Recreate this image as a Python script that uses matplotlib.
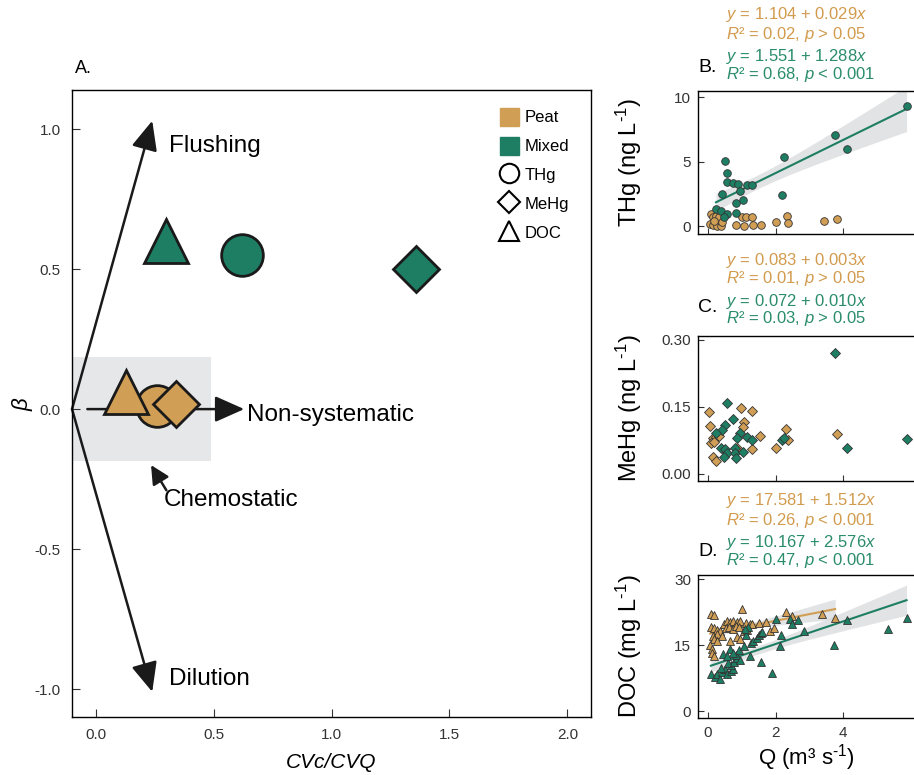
import numpy as np
import matplotlib
matplotlib.use("Agg")
import matplotlib.pyplot as plt
from matplotlib.patches import Patch, Rectangle
from matplotlib.lines import Line2D

plt.rcParams['font.family'] = ['Liberation Sans', 'DejaVu Sans']
plt.rcParams['mathtext.fontset'] = 'custom'
plt.rcParams['mathtext.rm'] = 'Liberation Sans'
plt.rcParams['mathtext.it'] = 'Liberation Sans:italic'
plt.rcParams['axes.unicode_minus'] = False
plt.rcParams['axes.linewidth'] = 1.0

PEAT = '#D19E55'
MIXED = '#1E7E64'
PEAT_TXT = '#D29B4E'
MIXED_TXT = '#2A8C6C'

# panel A: CVc/CVQ and beta for THg, MeHg, DOC
peat_cv = [0.26, 0.34, 0.13]
peat_beta = [0.01, 0.02, 0.06]
mixed_cv = [0.62, 1.36, 0.30]
mixed_beta = [0.55, 0.50, 0.60]

# panel B: THg vs Q
thg_mixed_q = [0.51, 0.58, 0.57, 0.75, 0.88, 1.17, 1.31, 0.43, 0.95, 1.04, 0.84, 0.24,
               0.40, 0.56, 0.48, 0.82, 2.24, 2.20, 3.76, 4.11, 5.87]
thg_mixed = [5.06, 4.13, 3.40, 3.35, 3.30, 3.19, 3.17, 2.52, 2.70, 2.05, 1.79, 1.35,
             1.22, 0.96, 0.70, 1.01, 5.40, 2.42, 7.12, 6.00, 9.32]
thg_peat_q = [0.09, 0.14, 0.24, 0.33, 0.07, 0.14, 0.28, 0.38, 0.19, 0.43, 0.82, 1.07,
              1.02, 1.12, 1.31, 1.34, 1.56, 2.00, 2.34, 2.36, 3.42, 3.81]
thg_peat = [0.96, 0.70, 0.83, 0.70, 0.18, 0.13, 0.05, 0.02, 0.44, 0.31, 0.13, 0.02,
            0.70, 0.70, 0.70, 0.08, 0.13, 0.31, 0.83, 0.23, 0.39, 0.57]

# panel C: MeHg vs Q
mehg_mixed_q = [0.58, 0.74, 0.51, 0.43, 0.24, 0.95, 0.87, 1.15, 1.29, 0.38, 0.51, 0.56,
                0.48, 0.80, 0.80, 0.82, 1.04, 2.20, 2.25, 3.76, 4.11, 5.87]
mehg_mixed = [0.158, 0.122, 0.110, 0.098, 0.091, 0.091, 0.080, 0.082, 0.076, 0.059, 0.055,
              0.046, 0.037, 0.057, 0.046, 0.036, 0.049, 0.076, 0.080, 0.270, 0.057, 0.079]
mehg_peat_q = [0.04, 0.07, 0.99, 1.29, 1.07, 1.04, 0.14, 0.24, 0.33, 0.09, 0.19, 1.54,
               0.85, 1.31, 2.00, 2.32, 2.36, 3.81, 0.14, 0.24]
mehg_peat = [0.138, 0.107, 0.148, 0.140, 0.117, 0.104, 0.080, 0.082, 0.084, 0.069, 0.072,
             0.085, 0.057, 0.055, 0.057, 0.100, 0.076, 0.089, 0.037, 0.028]

# panel D: DOC vs Q
doc_peat_q = [0.09, 0.17, 0.09, 0.19, 0.28, 0.36, 0.26, 0.41, 0.14, 0.19, 0.28, 0.07,
              0.11, 0.11, 0.17, 0.48, 0.56, 0.66, 0.75, 0.85, 0.95, 1.02, 1.12, 1.24,
              1.31, 1.51, 1.71, 0.53, 0.63, 0.73, 0.82, 0.92, 1.07, 1.17, 0.66, 0.87,
              0.95, 1.85, 1.95, 2.32, 2.49, 3.37, 3.76]
doc_peat = [22.2, 22.0, 19.2, 18.9, 18.6, 18.2, 17.7, 17.2, 17.2, 16.5, 15.9, 15.2,
            14.1, 13.3, 12.7, 19.9, 20.5, 20.3, 20.5, 20.3, 20.6, 23.3, 20.1, 19.8,
            19.9, 20.1, 20.3, 18.9, 19.2, 18.8, 19.4, 19.2, 18.2, 18.6, 15.9, 16.9,
            16.4, 18.2, 18.9, 22.6, 21.6, 22.2, 21.3]
doc_mixed_q = [0.09, 0.21, 0.28, 0.36, 0.43, 0.50, 0.38, 0.58, 0.68, 0.75, 0.68, 0.60,
               0.77, 0.87, 0.82, 0.92, 0.66, 0.73, 0.46, 0.56, 0.95, 1.07, 1.12, 1.19,
               1.09, 1.28, 1.34, 1.46, 1.51, 1.56, 1.60, 1.26, 1.58, 1.90, 2.00, 2.17,
               2.13, 2.44, 2.49, 2.66, 2.83, 3.72, 4.11, 5.33, 5.87]
doc_mixed = [8.6, 7.8, 8.4, 7.4, 8.9, 9.6, 9.9, 8.6, 9.1, 9.6, 10.5, 11.0,
             11.2, 12.1, 12.9, 13.9, 14.1, 13.3, 13.1, 12.7, 11.6, 14.8, 17.3, 19.2,
             18.8, 15.6, 16.0, 16.7, 17.3, 17.9, 18.0, 12.7, 11.2, 8.7, 21.1, 17.3,
             14.8, 21.1, 19.9, 20.8, 18.3, 15.0, 20.8, 18.8, 21.2]

# fitted coefficients from the annotations
fit_b_mixed = (1.551, 1.288)
fit_d_peat = (17.581, 1.512)
fit_d_mixed = (10.167, 2.576)


def fit_band(ax, x, y, coef, color):
    x = np.asarray(x)
    y = np.asarray(y)
    a, b = coef
    xs = np.linspace(x.min(), x.max(), 100)
    resid = y - (a + b * x)
    n = len(x)
    s = np.sqrt(np.sum(resid ** 2) / (n - 2))
    se = s * np.sqrt(1 / n + (xs - x.mean()) ** 2 / np.sum((x - x.mean()) ** 2))
    ax.fill_between(xs, a + b * xs - 2 * se, a + b * xs + 2 * se, color='#D9DADB',
                    alpha=0.75, lw=0, zorder=1)
    ax.plot(xs, a + b * xs, color=color, lw=1.5, zorder=2)


fig = plt.figure(figsize=(9.14, 7.75), dpi=100)

# ---------- panel A
ax = fig.add_axes([0.0788, 0.0748, 0.5678, 0.8091])
ax.set_xlim(-0.1, 2.1)
ax.set_ylim(-1.1, 1.14)
ax.add_patch(Rectangle((-0.1, -0.186), 0.59, 0.372, color='#E6E7E8', lw=0, zorder=0))

arr = dict(arrowstyle='-|>,head_length=0.9,head_width=0.4', color='#1a1a1a',
           lw=1.8, mutation_scale=20, shrinkA=0, shrinkB=0)
ax.annotate('', xy=(0.24, 1.03), xytext=(-0.1, 0.0), arrowprops=arr, zorder=2)
ax.annotate('', xy=(0.24, -1.01), xytext=(-0.1, 0.0), arrowprops=arr, zorder=2)
ax.annotate('', xy=(0.63, 0.0), xytext=(-0.035, 0.0), arrowprops=arr, zorder=2)
ax.annotate('', xy=(0.235, -0.2), xytext=(0.30, -0.29),
            arrowprops=dict(arrowstyle='-|>,head_length=0.8,head_width=0.4',
                            color='#1a1a1a', lw=1.8, mutation_scale=14,
                            shrinkA=0, shrinkB=0), zorder=2)

ax.text(0.31, 0.94, 'Flushing', fontsize=17.5, va='center')
ax.text(0.64, -0.02, 'Non-systematic', fontsize=17.5, va='center')
ax.text(0.29, -0.325, 'Chemostatic', fontsize=17.5, va='center')
ax.text(0.31, -0.965, 'Dilution', fontsize=17.5, va='center')

markers = ['o', 'D', '^']
sizes = [30, 23, 31]
for i in [0, 2, 1]:
    ax.plot(peat_cv[i], peat_beta[i], marker=markers[i], ms=sizes[i], mfc=PEAT,
            mec='#1a1a1a', mew=2, ls='none', zorder=3)
    ax.plot(mixed_cv[i], mixed_beta[i], marker=markers[i], ms=sizes[i], mfc=MIXED,
            mec='#1a1a1a', mew=2, ls='none', zorder=3)

handles = [Patch(color=PEAT, label='Peat'), Patch(color=MIXED, label='Mixed'),
           Line2D([], [], marker='o', ms=14, mfc='white', mec='black', mew=1.5, ls='none', label='THg'),
           Line2D([], [], marker='D', ms=11, mfc='white', mec='black', mew=1.5, ls='none', label='MeHg'),
           Line2D([], [], marker='^', ms=15, mfc='white', mec='black', mew=1.5, ls='none', label='DOC')]
ax.legend(handles=handles, loc='upper left', bbox_to_anchor=(0.825, 0.972), frameon=False,
          fontsize=12, handlelength=1.1, handleheight=1.3, handletextpad=0.35,
          labelspacing=0.65, borderaxespad=0, borderpad=0)

ax.set_xticks([0.0, 0.5, 1.0, 1.5, 2.0])
ax.set_yticks([-1.0, -0.5, 0.0, 0.5, 1.0])
ax.tick_params(direction='in', length=6, labelsize=11, pad=8, colors='#333333')
ax.set_xlabel('CVc/CVQ', fontsize=15, style='italic', labelpad=8)
ax.set_ylabel(r'$\beta$', fontsize=16)
ax.yaxis.set_label_coords(-0.072, 0.5)
fig.text(0.082, 0.912, 'A.', fontsize=13, va='center')

# ---------- panels B, C, D
rects = [[0.7637, 0.6981, 0.2363, 0.1845],
         [0.7637, 0.3794, 0.2363, 0.1871],
         [0.7637, 0.0735, 0.2363, 0.1845]]
axB, axC, axD = [fig.add_axes(r) for r in rects]
for a in (axB, axC, axD):
    a.set_xlim(-0.29, 6.09)
    a.set_xticks([0, 2, 4])
    a.spines['right'].set_visible(False)
    a.tick_params(direction='in', length=4, labelsize=11, pad=5, colors='#333333')
axB.set_xticklabels([])
axC.set_xticklabels([])

small = dict(ls='none', mec='#333333', mew=0.6, zorder=3)
fit_band(axB, thg_mixed_q, thg_mixed, fit_b_mixed, MIXED)
axB.plot(thg_peat_q, thg_peat, 'o', ms=5.5, mfc=PEAT, **small)
axB.plot(thg_mixed_q, thg_mixed, 'o', ms=5.5, mfc=MIXED, **small)
axB.set_ylim(-0.6, 10.5)
axB.set_yticks([0, 5, 10])
axB.set_ylabel(r'THg (ng L$^{\text{-1}}$)', fontsize=17)

axC.plot(mehg_peat_q, mehg_peat, 'D', ms=5, mfc=PEAT, **small)
axC.plot(mehg_mixed_q, mehg_mixed, 'D', ms=5, mfc=MIXED, **small)
axC.set_ylim(-0.016, 0.309)
axC.set_yticks([0.0, 0.15, 0.30])
axC.set_yticklabels(['0.00', '0.15', '0.30'])
axC.set_ylabel(r'MeHg (ng L$^{\text{-1}}$)', fontsize=17)

fit_band(axD, doc_peat_q, doc_peat, fit_d_peat, PEAT)
fit_band(axD, doc_mixed_q, doc_mixed, fit_d_mixed, MIXED)
axD.plot(doc_peat_q, doc_peat, '^', ms=6, mfc=PEAT, **small)
axD.plot(doc_mixed_q, doc_mixed, '^', ms=6, mfc=MIXED, **small)
axD.set_ylim(-1.5, 31)
axD.set_yticks([0, 15, 30])
axD.set_ylabel(r'DOC (mg L$^{\text{-1}}$)', fontsize=17)
axD.set_xlabel(r'Q (m³ s$^{\text{-1}}$)', fontsize=16, labelpad=1)
axD.tick_params(axis='x', pad=6)

# line up the three y labels like the reference
for a in (axB, axC, axD):
    a.yaxis.set_label_coords(-0.25, 0.5)

# panel letters and regression annotations
W, H = 914.0, 775.0
ann = [('B.', 67, ['$\\it{y}$ = 1.104 + 0.029$\\it{x}$', '$\\it{R}$² = 0.02, $\\it{p}$ > 0.05'],
        ['$\\it{y}$ = 1.551 + 1.288$\\it{x}$', '$\\it{R}$² = 0.68, $\\it{p}$ < 0.001'], 15),
       ('C.', 307, ['$\\it{y}$ = 0.083 + 0.003$\\it{x}$', '$\\it{R}$² = 0.01, $\\it{p}$ > 0.05'],
        ['$\\it{y}$ = 0.072 + 0.010$\\it{x}$', '$\\it{R}$² = 0.03, $\\it{p}$ > 0.05'], 260),
       ('D.', 552, ['$\\it{y}$ = 17.581 + 1.512$\\it{x}$', '$\\it{R}$² = 0.26, $\\it{p}$ < 0.001'],
        ['$\\it{y}$ = 10.167 + 2.576$\\it{x}$', '$\\it{R}$² = 0.47, $\\it{p}$ < 0.001'], 501)]
for letter, ly, peat_lines, mixed_lines, top in ann:
    fig.text(698 / W, 1 - ly / H, letter, fontsize=14, va='center')
    ys = [top, top + 19, top + 41, top + 59]
    for t, yy, c in zip(peat_lines + mixed_lines, ys, [PEAT_TXT, PEAT_TXT, MIXED_TXT, MIXED_TXT]):
        fig.text(726 / W, 1 - yy / H, t, fontsize=12, color=c, va='center')

fig.savefig('out.png', dpi=100)
